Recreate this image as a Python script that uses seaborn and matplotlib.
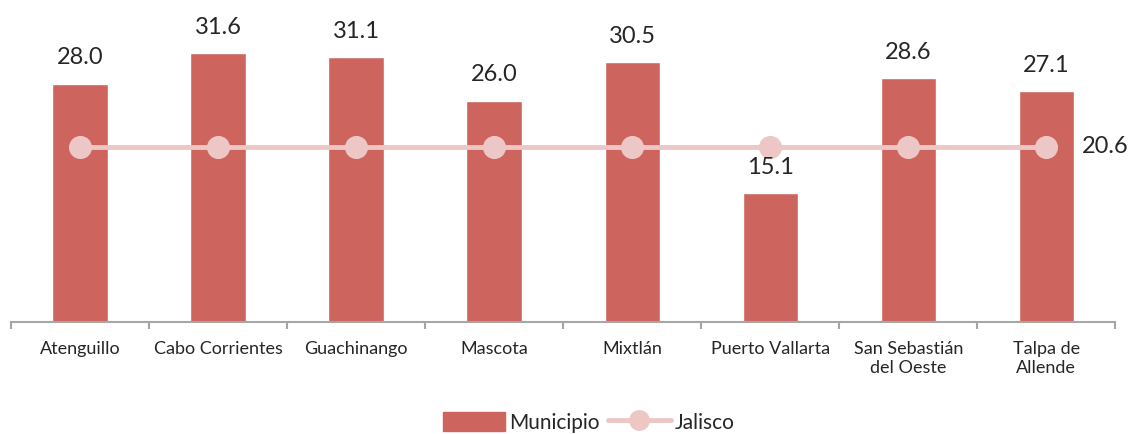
import matplotlib
matplotlib.use("Agg")
import matplotlib.pyplot as plt
import seaborn as sns
from matplotlib.patches import Patch
from matplotlib.lines import Line2D

municipios = ["Atenguillo", "Cabo Corrientes", "Guachinango", "Mascota", "Mixtlán",
              "Puerto Vallarta", "San Sebastián\ndel Oeste", "Talpa de\nAllende"]
municipio_vals = [28.0, 31.6, 31.1, 26.0, 30.5, 15.1, 28.6, 27.1]
jalisco_vals = [20.6, 20.6, 20.6, 20.6, 20.6, 20.6, 20.6, 20.6]

bar_color = "#CD655E"
line_color = "#EDC6C6"

sns.set_style("white")
plt.rcParams["font.family"] = ["Lato", "DejaVu Sans"]

fig = plt.figure(figsize=(11.32, 4.34), dpi=100)
ax = fig.add_axes([0.0097, 0.258, 0.9755, 0.73])

sns.barplot(x=municipios, y=municipio_vals, color=bar_color, width=0.4,
            saturation=1, ax=ax, zorder=2)
sns.pointplot(x=municipios, y=jalisco_vals, color=line_color, markers="o",
              linestyles="-", ax=ax, zorder=3, linewidth=3.5, markersize=14)

ax.bar_label(ax.containers[0], fmt="%.1f", padding=11, fontsize=17)
ax.annotate(f"{jalisco_vals[-1]:.1f}", (len(municipios) - 1, jalisco_vals[-1]),
            xytext=(26, 0), textcoords="offset points", va="center", ha="left",
            fontsize=17)

ax.set_xlim(-0.5, len(municipios) - 0.5)
ax.set_ylim(0, 37.2)
ax.set_yticks([])
for s in ["top", "right", "left"]:
    ax.spines[s].set_visible(False)
ax.spines["bottom"].set_color("#A6A6A6")
ax.spines["bottom"].set_linewidth(1.5)
ax.set_xticks(range(len(municipios)))
ax.set_xticklabels(municipios, fontsize=13)
ax.set_xticks([i - 0.5 for i in range(len(municipios) + 1)], minor=True)
ax.tick_params(axis="x", which="major", length=0, pad=14)
ax.tick_params(axis="x", which="minor", length=5, width=1.5, color="#A6A6A6",
               direction="out", bottom=True)

handles = [Patch(color=bar_color),
           Line2D([], [], color=line_color, lw=3.5, marker="o", markersize=14)]
fig.legend(handles, ["Municipio", "Jalisco"], loc="lower center", ncol=2,
           frameon=False, fontsize=15, bbox_to_anchor=(0.52, -0.04),
           handlelength=3.0, handleheight=1.0, columnspacing=0.4, handletextpad=0.2)

fig.savefig("out.png", dpi=100)
